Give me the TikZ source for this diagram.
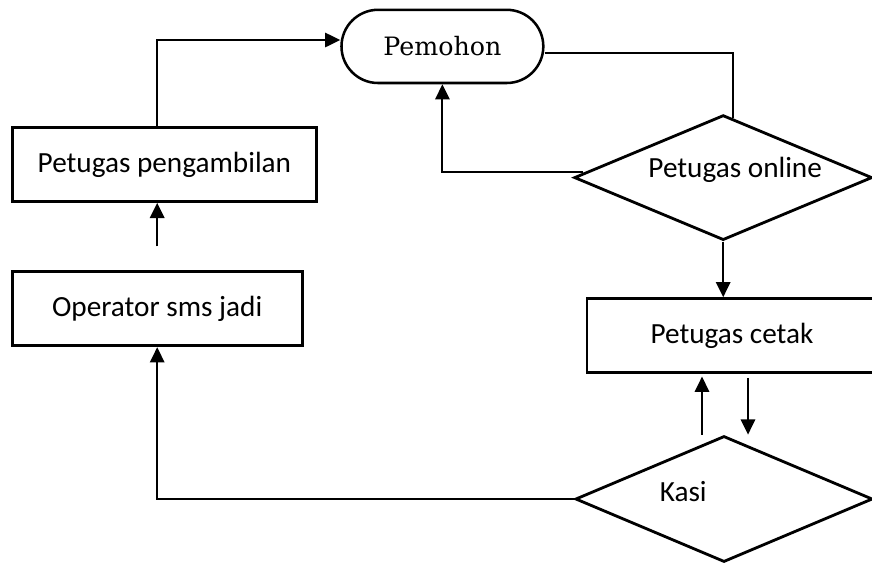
\documentclass[tikz,border=0pt]{standalone}
\usepackage{fontspec}
\setmainfont{Carlito}
\newfontfamily\pemohonfont{DejaVu Serif}
\usepackage{tikz}
\usetikzlibrary{
  positioning,
  shapes.misc,
  shapes.geometric,
  arrows.meta
}

\begin{document}
\begin{tikzpicture}[>={Triangle[length=0.38cm,width=0.36cm]},line width=1.4pt,
        kotak/.style={draw,rectangle,line width=2pt,minimum height=1.85cm,inner sep=0pt,
            font=\fontsize{20.8}{25}\selectfont},
        keputusan/.style={draw,diamond,line width=2pt,inner sep=0pt,aspect=2.4},
        teks/.style={font=\fontsize{20.8}{25}\selectfont,inner sep=0pt}]
        \useasboundingbox (0,0) rectangle (21.8,-14.075);
        \clip (0,0) rectangle (21.8,-14.075);
        % kotak dan belah ketupat
        \node[draw,rounded rectangle,line width=1.8pt,minimum width=5.28cm,minimum height=1.83cm,
            font=\pemohonfont\fontsize{18}{21}\selectfont] (pemohon) at (11.06,-1.16) {Pemohon};
        \node[kotak,minimum width=7.6cm] (pengambilan) at (4.11,-4.11) {Petugas pengambilan};
        \node[kotak,minimum width=7.25cm] (operator) at (3.93,-7.72) {Operator sms jadi};
        \node[kotak,minimum width=7.25cm] (cetak) at (18.3,-8.39) {Petugas cetak};
        \node[keputusan,minimum width=7.45cm,minimum height=3.125cm] (online) at (18.08,-4.44) {};
        \node[teks] (teksonline) at (18.38,-4.25) {Petugas online};
        \node[keputusan,minimum width=7.43cm,minimum height=3.15cm] (kasi) at (18.1,-12.475) {};
        \node[teks] (tekskasi) at (17.08,-12.3) {Kasi};
        \coordinate (tembus) at (18.33,-2.95);
        % panah
        \draw[->] (pengambilan.north -| operator.north) |- ([yshift=0.16cm]pemohon.west);
        \draw ([yshift=-0.16cm]pemohon.east) -| (tembus);
        \draw[->] ([shift={(0.25,0.15)}]online.west) -| (pemohon.south);
        \draw[->] (online.south) -- (online.south |- cetak.north);
        \draw[->] ([xshift=-0.55cm]kasi.north) -- +(0,1.45);
        \draw[->] ([xshift=0.6cm,yshift=1.42cm]kasi.north) -- +(0,-1.42);
        \draw[->] (kasi.west) -| (operator.south);
        \draw[->] ([yshift=0.6cm]operator.north) -- (operator.north |- pengambilan.south);
    \end{tikzpicture}
\end{document}
